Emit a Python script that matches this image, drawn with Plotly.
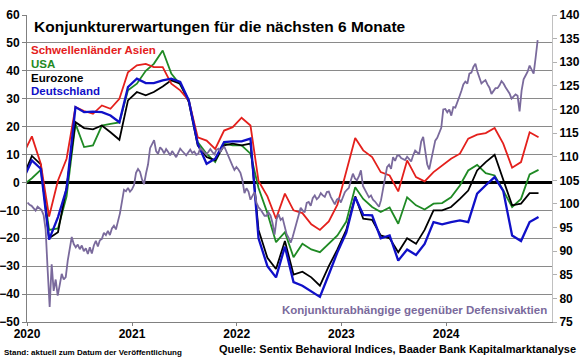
import plotly.graph_objects as go
import pandas as pd

# ---------------- data ----------------
months = [f"{y}-{m:02d}-18" for y, m in [(2019, 12)] + [(yy, mm) for yy in range(2020, 2025) for mm in range(1, 13)]][:60]

asien = [10, 16.5, 6.7, -12.2, 0.7, 8.5, 27, 25.6, 24.6, 27.6, 26.4, 30,
         39.5, 42, 42.5, 41.3, 41.3, 35.4, 33, 29.4, 16.2, 15, 12, 18.6,
         19.8, 23.2, 20.4, 0.5, -5, -13, -4, -10, -11, -15, -17, -14,
         -8, 4, 15.9, 11.5, 9.1, 3.7, 2.5, -3.2, 7.9, 1.9, 0.4, 3.7,
         6.1, 8.5, 10.3, 15.7, 17.1, 17.7, 19.5, 13.9, 5.3, 7.3, 18, 16.2]

usa = [-1, 1.5, 4.5, -17, -16.5, -5, 21, 12.7, 13.3, 20.4, 21, 21.5,
       33, 35.4, 40, 42.5, 47.3, 39, 35, 29.5, 14.5, 10.3, 7.3, 13.9,
       13.3, 13.3, 10.3, -2, -11, -21.4, -17.8, -26.8, -22, -24, -25, -22,
       -19, -14, -1.7, -5.9, -8.8, -10.6, -9, -14.8, -5.3, -8.2, -9.7, -7.6,
       -7.4, -5.3, -1.1, 4.3, 6.3, 3.3, 2.5, -2.9, -8.8, -5.9, 2.9, 4.5]

eurozone = [1.9, 9.5, 6.5, -20, -17.8, -1.7, 21.6, 19.5, 19, 20.4, 18, 15.3,
            29.4, 32.4, 31.2, 32.4, 34.4, 36.6, 35.4, 28.8, 13.3, 9.1, 7.9, 13.3,
            13.9, 13.3, 13.9, -17, -27, -31, -21, -33, -32, -34, -37, -30,
            -24, -17, -5, -13, -13.4, -19, -20, -25, -20, -22, -17, -10,
            -10, -8.8, -5.9, -2.9, 4.3, 7.3, 9.9, 0.7, -8.2, -7.6, -3.8, -3.8]

deutschland = [1, 7.9, 4.9, -20.5, -12.4, -2.3, 27, 25.2, 25.4, 25.2, 24, 21.6,
               34.2, 37.2, 35.6, 35.6, 36.6, 37.2, 36, 29.4, 13.9, 6.7, 8.5, 14.5,
               14.7, 14.7, 15.7, -20, -30, -34, -23, -35.7, -37, -39, -41, -33,
               -25, -18, -5.3, -11.6, -11.8, -20, -19, -28, -24, -26, -22, -14.2,
               -15, -14.2, -13.6, -14.2, -4, -1, 1.9, -3, -19, -21, -14.2, -12.4]

# Konjunkturabhaengige gegenueber Defensivaktien (weekly, right axis)
relativ = [100.3, 99.8, 99.6, 99.0, 98.6, 99.4, 99.1, 98.7, 97.6, 94.5,
           86.0, 78.2, 87.2, 81.6, 84.0, 80.6, 82.8, 85.2, 84.0, 84.5,
           88.0, 90.5, 93.0, 91.5, 90.8, 91.4, 90.4, 91.2, 90.0, 90.6,
           89.4, 90.8, 89.5, 91.2, 92.2, 91.0, 92.3, 92.6, 93.9, 93.4,
           94.3, 93.4, 94.8, 95.4, 94.6, 96.3, 98.0, 100.5, 103.0, 102.7,
           103.4, 102.6, 103.1, 104.0, 106.6, 107.4, 106.8, 105.2, 104.2, 106.5,
           108.4, 111.8, 112.6, 113.5, 111.2, 110.6, 112.0, 111.5, 110.7, 111.6,
           111.0, 110.3, 111.2, 110.6, 109.9, 110.8, 111.7, 111.2, 110.8, 110.3,
           110.9, 111.5, 110.8, 111.1, 110.4, 110.6, 111.8, 111.3, 110.9, 110.5,
           111.0, 111.6, 111.0, 110.5, 111.4, 111.7, 111.1, 111.8, 112.1, 111.0,
           109.9, 108.9, 108.1, 107.2, 107.8, 107.3, 106.6, 105.0, 102.3, 103.3,
           102.6, 100.9, 101.8, 102.5, 100.2, 99.3, 98.8, 98.1, 97.5, 97.5,
           98.2, 97.5, 95.9, 93.5, 96.8, 97.8, 96.6, 97.0, 95.2, 93.6,
           92.8, 91.8, 93.0, 94.6, 96.0, 97.5, 99.2, 98.6, 98.2, 100.2,
           100.4, 99.6, 101.2, 101.8, 101.0, 101.4, 102.3, 101.8, 101.5, 102.5,
           102.6, 101.5, 100.6, 99.9, 100.9, 101.2, 100.3, 101.6, 102.5, 103.0,
           103.4, 105.0, 106.4, 105.4, 105.0, 105.9, 107.1, 103.8, 102.9, 102.0,
           101.4, 101.8, 100.9, 100.5, 100.0, 99.4, 100.8, 103.2, 105.5, 107.8,
           108.3, 107.4, 109.9, 109.1, 110.2, 110.3, 109.7, 109.5, 109.3, 110.0,
           109.6, 109.0, 110.3, 111.3, 110.9, 110.5, 113.2, 114.2, 111.3, 108.4,
           107.3, 109.4, 111.0, 113.4, 114.0, 115.0, 116.1, 120.0, 120.1, 119.4,
           120.0, 118.7, 120.5, 120.4, 121.8, 122.7, 123.9, 125.3, 125.9, 125.5,
           127.6, 127.8, 129.0, 129.7, 128.0, 126.6, 125.5, 125.9, 126.2, 125.3,
           124.6, 123.3, 123.8, 124.5, 124.5, 125.1, 126.0, 125.5, 124.7, 124.0,
           123.4, 122.3, 122.8, 123.2, 122.9, 119.6, 124.0, 126.4, 127.2, 128.0,
           129.3, 128.6, 127.6, 131.0, 134.7]
weeks = pd.date_range("2020-01-03", periods=len(relativ), freq="7D")

year_ticks = ["2020-01-01", "2021-01-01", "2022-01-01", "2023-01-01", "2024-01-01"]
year_labels = ["2020", "2021", "2022", "2023", "2024"]

# ---------------- styling ----------------
W, H = 580, 359
L, R, T, B = 27, 28, 15, 37
PW, PH = W - L - R, H - T - B
FONT = "Liberation Sans, Arial, sans-serif"

RED = "#E4201C"
GREEN = "#1F8A24"
BLACK = "#000000"
BLUE = "#1010C8"
PURPLE = "#7A6A9C"


def ax(px):
    return (px - L) / PW


def ay(py):
    return (H - B - py) / PH


fig = go.Figure()
fig.add_trace(go.Scatter(x=weeks, y=relativ, yaxis="y2", mode="lines",
                         line=dict(color=PURPLE, width=1.8), name="Relativ"))
fig.add_trace(go.Scatter(x=months, y=usa, mode="lines",
                         line=dict(color=GREEN, width=1.8), name="USA"))
fig.add_trace(go.Scatter(x=months, y=eurozone, mode="lines",
                         line=dict(color=BLACK, width=1.8), name="Eurozone"))
fig.add_trace(go.Scatter(x=months, y=asien, mode="lines",
                         line=dict(color=RED, width=1.8), name="Schwellenländer Asien"))
fig.add_trace(go.Scatter(x=months, y=deutschland, mode="lines",
                         line=dict(color=BLUE, width=2.3), name="Deutschland"))

tickfont = dict(family=FONT, size=12, color="#000000", weight="bold")

fig.update_layout(
    width=W, height=H, autosize=False,
    margin=dict(l=L, r=R, t=T, b=B, pad=0, autoexpand=False),
    paper_bgcolor="white", plot_bgcolor="white",
    showlegend=False,
    xaxis=dict(type="date", range=["2020-01-01", "2025-01-04"],
               tickvals=year_ticks, ticktext=year_labels,
               ticks="outside", ticklen=3, tickcolor="#808080",
               ticklabelstandoff=-2,
               showline=True, linecolor="#808080", linewidth=1,
               showgrid=False, zeroline=False, tickfont=tickfont, automargin=False),
    yaxis=dict(range=[-50, 60], dtick=10, tick0=0,
               ticks="outside", ticklen=4, tickcolor="#808080",
               showline=True, linecolor="#808080", linewidth=1,
               showgrid=True, gridcolor="#8a8a8a", gridwidth=1,
               zeroline=True, zerolinecolor="#000000", zerolinewidth=2.5,
               tickfont=tickfont, automargin=False),
    yaxis2=dict(range=[75, 140], dtick=5, tick0=75, overlaying="y", side="right",
                ticks="outside", ticklen=4, tickcolor="#b0b0b0",
                showline=True, linecolor="#c0c0c0", linewidth=1,
                showgrid=False, zeroline=False, tickfont=tickfont, automargin=False),
)

ann = [
    dict(text="Konjunkturerwartungen für die nächsten 6 Monate", x=ax(32), y=ay(26),
         font=dict(size=15.5, color="#000000"), xanchor="left"),
    dict(text="Schwellenländer Asien", x=ax(29), y=ay(50), font=dict(size=11.5, color=RED), xanchor="left"),
    dict(text="USA", x=ax(29), y=ay(64), font=dict(size=11.5, color=GREEN), xanchor="left"),
    dict(text="Eurozone", x=ax(29), y=ay(78), font=dict(size=11.5, color=BLACK), xanchor="left"),
    dict(text="Deutschland", x=ax(29), y=ay(91), font=dict(size=11.5, color=BLUE), xanchor="left"),
    dict(text="Konjunkturabhängige gegenüber Defensivaktien", x=ax(549), y=ay(310),
         font=dict(size=11.5, color=PURPLE), xanchor="right"),
    dict(text="Stand: aktuell zum Datum der Veröffentlichung", x=ax(2), y=ay(352),
         font=dict(size=8, color="#000000"), xanchor="left"),
    dict(text="Quelle: Sentix Behavioral Indices, Baader Bank Kapitalmarktanalyse", x=ax(578), y=ay(349),
         font=dict(size=11, color="#000000"), xanchor="right"),
]
for a in ann:
    a["font"]["family"] = FONT
    a["font"]["weight"] = "bold"
    fig.add_annotation(xref="paper", yref="paper", yanchor="middle", showarrow=False, **a)

fig.write_html("out.html",
               config={"displayModeBar": False},
               post_script="document.body.style.margin='0px';"
                           "document.documentElement.style.overflow='hidden';")
